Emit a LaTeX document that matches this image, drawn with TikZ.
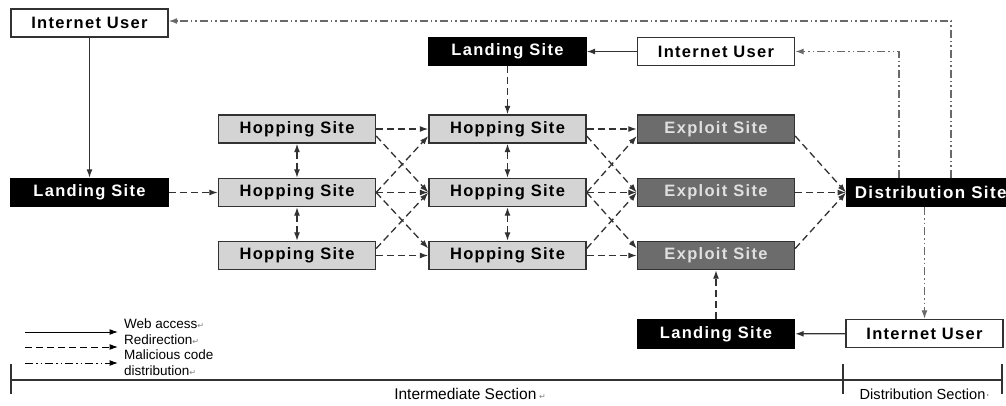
\documentclass[tikz,border=0pt]{standalone}
\usepackage{fontspec}
\setmainfont{Liberation Sans}
\newfontfamily\boxfont[LetterSpace=8]{Liberation Sans}
\newfontfamily\symfont{DejaVu Sans}
\usetikzlibrary{arrows.meta}
\definecolor{hopgray}{RGB}{212,212,212}
\definecolor{expgray}{RGB}{108,108,108}
\definecolor{edgegray}{RGB}{50,50,50}
\definecolor{malgray}{RGB}{105,105,105}
\newcommand{\pmark}{{\symfont\color{gray}\fontsize{8}{8}\selectfont\char"21B5}}

\begin{document}
\begin{tikzpicture}[x=1pt,y=-1pt,
  site/.style={draw=edgegray,line width=1.4pt,minimum width=157pt,
    minimum height=28pt,inner sep=0pt,
    font=\boxfont\bfseries\fontsize{16.5}{18}\selectfont},
  user/.style={site,fill=white},
  landing/.style={site,fill=black,draw=black,text=white},
  hopping/.style={site,fill=hopgray},
  exploit/.style={site,fill=expgray,text=white!88!black},
  access/.style={-{Latex[length=8.5pt,width=6pt]},line width=1.3pt,draw=edgegray},
  redirect/.style={access,dash pattern=on 7pt off 4pt},
  twoway/.style={redirect,{Latex[length=8.5pt,width=6pt]}-{Latex[length=8.5pt,width=6pt]}},
  malicious/.style={access,draw=malgray,
    dash pattern=on 8pt off 3pt on 1.5pt off 3pt on 1.5pt off 3pt}]
  \useasboundingbox (0,0) rectangle (1006,405);

  % sites
  \node[user] (user1) at (89.5,23) {Internet User};
  \node[landing] (land1) at (89.5,192.5) {Landing Site};
  \node[hopping] (h11) at (297,129) {Hopping Site};
  \node[hopping] (h12) at (297,192.5) {Hopping Site};
  \node[hopping] (h13) at (297,255.5) {Hopping Site};
  \node[landing] (land2) at (507.5,51.5) {Landing Site};
  \node[hopping] (h21) at (507.5,129) {Hopping Site};
  \node[hopping] (h22) at (507.5,192.5) {Hopping Site};
  \node[hopping] (h23) at (507.5,255.5) {Hopping Site};
  \node[user] (user2) at (716,51.5) {Internet User};
  \node[exploit] (e1) at (716,129) {Exploit Site};
  \node[exploit] (e2) at (716,192.5) {Exploit Site};
  \node[exploit] (e3) at (716,255.5) {Exploit Site};
  \node[landing] (land3) at (716,334) {Landing Site};
  \node[landing,anchor=west,minimum width=168pt,
    font=\boxfont\bfseries\fontsize{17}{18}\selectfont] (dist) at (846,192.5)
    {Distribution Site};
  \node[user] (user3) at (924.5,333.5) {Internet User};

  % web access
  \draw[access] (user1) -- (land1);
  \draw[access] (user2) -- (land2);
  \draw[access] (user3) -- (land3);

  % redirection
  \draw[redirect] (land1) -- (h12);
  \draw[redirect] (land2) -- (h21);
  \draw[redirect] (land3) -- (e3);
  \draw[twoway] (h11) -- (h12);
  \draw[twoway] (h12) -- (h13);
  \draw[twoway] (h21) -- (h22);
  \draw[twoway] (h22) -- (h23);
  \draw[redirect] (h11) -- (h21);
  \draw[redirect] (h12) -- (h22);
  \draw[redirect] (h13) -- (h23);
  \draw[redirect] ([yshift=-7pt]h11.east) -- (h22.west);
  \draw[redirect] (h12.east) -- ([yshift=-7pt]h21.west);
  \draw[redirect] ([yshift=7pt]h13.east) -- (h22.west);
  \draw[redirect] (h12.east) -- ([yshift=7pt]h23.west);
  \draw[redirect] (h21) -- (e1);
  \draw[redirect] (h22) -- (e2);
  \draw[redirect] (h23) -- (e3);
  \draw[redirect] ([yshift=-7pt]h21.east) -- (e2.west);
  \draw[redirect] (h22.east) -- ([yshift=-7pt]e1.west);
  \draw[redirect] ([yshift=7pt]h23.east) -- (e2.west);
  \draw[redirect] (h22.east) -- ([yshift=7pt]e3.west);
  \draw[redirect] ([yshift=-7pt]e1.east) -- (dist.west);
  \draw[redirect] (e2) -- (dist.west);
  \draw[redirect] ([yshift=7pt]e3.east) -- (dist.west);

  % malicious code distribution
  \draw[malicious] ([xshift=105pt]dist.north west) |- ([yshift=2pt]user1.east);
  \draw[malicious] ([xshift=53pt]dist.north west) |- (user2.east);
  \draw[malicious] (user3.north |- dist.south) -- (user3.north);

  % legend
  \coordinate (k1a) at (25,332);
  \coordinate (k1b) at (118,332);
  \coordinate (k2a) at (25,347);
  \coordinate (k2b) at (118,347);
  \coordinate (k3a) at (25,363);
  \coordinate (k3b) at (118,363);
  \draw[access,draw=black,line width=1pt] (k1a) -- (k1b);
  \draw[redirect,draw=black,line width=1pt] (k2a) -- (k2b);
  \draw[malicious,draw=black,line width=1pt] (k3a) -- (k3b);
  \node[anchor=north west,align=left,inner sep=0pt,
    font=\fontsize{13.5}{15.5}\selectfont] (key) at (124,319)
    {Web access\pmark\\Redirection\pmark\\Malicious code\\distribution\pmark};

  % sections
  \coordinate (sL) at (11,380);
  \coordinate (sM) at (843,380);
  \coordinate (sR) at (1002,380);
  \draw[edgegray,line width=1.2pt] (sL) -- (sR);
  \draw[edgegray,line width=1.2pt] ([yshift=16pt]sL) -- ([yshift=-14pt]sL);
  \draw[edgegray,line width=1.2pt] ([yshift=16pt]sM) -- ([yshift=-14pt]sM);
  \draw[edgegray,line width=1.2pt] ([yshift=16pt]sR) -- ([yshift=-14pt]sR);
  \node[font=\fontsize{15.5}{17}\selectfont] (isec) at (470,394)
    {Intermediate Section\,\pmark};
  \node[font=\fontsize{14.6}{17}\selectfont] (dsec) at (925,394)
    {Distribution Section{\color{gray}\textperiodcentered}};
\end{tikzpicture}
\end{document}
